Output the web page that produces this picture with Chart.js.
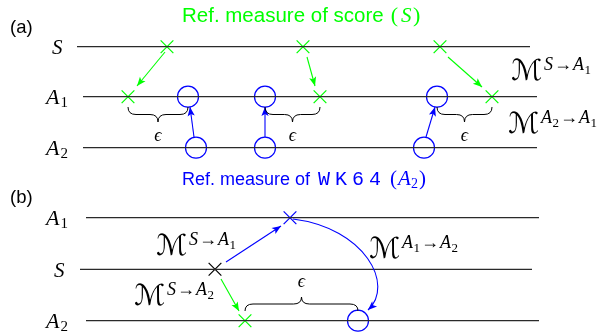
<!DOCTYPE html>
<html><head><meta charset="utf-8">
<script src="https://cdn.jsdelivr.net/npm/chart.js@4"></script>
<style>html,body{margin:0;padding:0;background:#fff}#w{width:613px;height:333px;position:relative}</style>
</head><body><div id="w"><canvas id="c"></canvas></div>
<script>
// ---------- diagram data (diagram units: 613 x 333 plane) ----------
// panel (a)
const aLevels = ['S', 'A1', 'A2'];
const aLineY = [46.7, 96.7, 147.7];
const aLineX = [[77, 530], [83, 537], [83, 537]];
const aScoreOnS = [167, 303, 440];      // green crosses on S
const aScoreOnA1 = [128, 320, 492];     // green crosses on A1
const aRefOnA2 = [196, 265, 424];       // blue circles on A2
const aRefOnA1 = [188, 265, 437];       // blue circles on A1
const aEpsSpans = [[128, 188], [265, 320], [437, 492]];
const aGreenArrows = [[165, 52, 137, 86], [307, 57, 315, 86], [448, 57, 482, 87]];
const aBlueArrows = [[194, 137, 190, 107], [265, 137, 265, 107], [426, 137, 435, 107]];
// panel (b)
const bLevels = ['A1', 'S', 'A2'];
const bLineY = [217.7, 269.3, 320.7];
const bLineX = [[86, 539], [80, 532], [86, 539]];
const bScoreOnS = [215];
const bMappedOnA1 = [290];
const bMappedOnA2 = [245];
const bRefOnA2 = [358];
const bBlueArrow = [226, 262, 281, 226];
const bGreenArrow = [221, 279, 239, 311];
const bCurve = [293, 219, 365, 228, 395, 285, 368, 310];
const bEpsSpan = [245, 358];

const GREEN = '#00ff00', BLUE = '#0000ff', INK = '#2a2a2a';

// ---------- datasets ----------
const datasets = [];
function hline(xs, y) {
  datasets.push({type: 'line', data: [{x: xs[0], y}, {x: xs[1], y}], borderColor: INK, borderWidth: 1.3,
    pointRadius: 0, clip: false});
}
aLineY.forEach((y, i) => hline(aLineX[i], y));
bLineY.forEach((y, i) => hline(bLineX[i], y));

function seg(a, color) {
  datasets.push({type: 'line', data: [{x: a[0], y: a[1]}, {x: a[2], y: a[3]}], borderColor: color, borderWidth: 1.1,
    pointRadius: 0, clip: false});
}
aGreenArrows.forEach(a => seg(a, GREEN));
aBlueArrows.forEach(a => seg(a, BLUE));
seg(bBlueArrow, BLUE);
seg(bGreenArrow, GREEN);

function marks(xs, y, style, color, r) {
  datasets.push({type: 'scatter', data: xs.map(x => ({x, y})), pointStyle: style, pointRadius: r,
    borderColor: color, backgroundColor: 'rgba(0,0,0,0)', pointBorderWidth: 1.2, borderWidth: 1.2, clip: false});
}
marks(aScoreOnS, aLineY[0], 'crossRot', GREEN, 9);
marks(aScoreOnA1, aLineY[1], 'crossRot', GREEN, 9);
marks(aRefOnA1, aLineY[1], 'circle', BLUE, 10.5);
marks(aRefOnA2, aLineY[2], 'circle', BLUE, 10.5);
marks(bScoreOnS, bLineY[1], 'crossRot', '#000', 9);
marks(bMappedOnA1, bLineY[0], 'crossRot', BLUE, 9);
marks(bMappedOnA2, bLineY[2], 'crossRot', GREEN, 9);
marks(bRefOnA2, bLineY[2], 'circle', BLUE, 10.5);

// ---------- drawing helpers (through scales) ----------
const SERIF = '"Liberation Serif", "DejaVu Serif", serif';
const SANS = '"Liberation Sans", Arial, sans-serif';
const MONO = '"Liberation Mono", "DejaVu Sans Mono", monospace';

const overlay = {
  id: 'overlay',
  afterDatasetsDraw(chart) {
    const ctx = chart.ctx, sx = chart.scales.x, sy = chart.scales.y;
    const X = v => sx.getPixelForValue(v), Y = v => sy.getPixelForValue(v);

    function head(x0, y0, x1, y1, color) {
      const px = X(x1), py = Y(y1), ang = Math.atan2(Y(y1) - Y(y0), X(x1) - X(x0));
      ctx.save(); ctx.translate(px, py); ctx.rotate(ang);
      ctx.beginPath(); ctx.moveTo(0, 0); ctx.lineTo(-9, -3.6); ctx.lineTo(-7, 0); ctx.lineTo(-9, 3.6); ctx.closePath();
      ctx.fillStyle = color; ctx.fill(); ctx.restore();
    }
    aGreenArrows.forEach(a => head(a[0], a[1], a[2], a[3], GREEN));
    aBlueArrows.forEach(a => head(a[0], a[1], a[2], a[3], BLUE));
    head(...bBlueArrow, BLUE);
    head(...bGreenArrow, GREEN);

    // curved arrow
    const c = bCurve;
    ctx.save(); ctx.strokeStyle = BLUE; ctx.lineWidth = 1.1; ctx.beginPath();
    ctx.moveTo(X(c[0]), Y(c[1])); ctx.bezierCurveTo(X(c[2]), Y(c[3]), X(c[4]), Y(c[5]), X(c[6]), Y(c[7]));
    ctx.stroke(); ctx.restore();
    head(c[4], c[5], c[6], c[7], BLUE);

    // braces
    function brace(x1, x2, y, h) {
      const a = X(x1), b = X(x2), m = (a + b) / 2, t = Y(y), mid = t + h / 2, tip = t + h, r = 8;
      ctx.save(); ctx.strokeStyle = '#000'; ctx.lineWidth = 1; ctx.beginPath();
      ctx.moveTo(a, t); ctx.quadraticCurveTo(a, mid, a + r, mid); ctx.lineTo(m - r, mid);
      ctx.quadraticCurveTo(m, mid, m, tip); ctx.quadraticCurveTo(m, mid, m + r, mid);
      ctx.lineTo(b - r, mid); ctx.quadraticCurveTo(b, mid, b, t); ctx.stroke(); ctx.restore();
    }
    aEpsSpans.forEach(s => brace(s[0], s[1], 107, 15));
    brace(bEpsSpan[0], bEpsSpan[1], 311, -14);

    // text runs: [text, font, dy, extra]
    function run(x, y, parts, color, align) {
      ctx.save(); ctx.fillStyle = color || '#000'; ctx.textBaseline = 'alphabetic';
      let w = 0;
      parts.forEach(p => { ctx.font = p[1]; w += ctx.measureText(p[0]).width + (p[3] || 0); });
      let cx = X(x) - (align === 'center' ? w / 2 : 0);
      parts.forEach(p => { ctx.font = p[1]; ctx.fillText(p[0], cx, Y(y) + (p[2] || 0)); cx += ctx.measureText(p[0]).width + (p[3] || 0); });
      ctx.restore();
    }
    const it = s => 'italic ' + s + 'px ' + SERIF;
    const rm = s => s + 'px ' + SERIF;
    const sans = s => s + 'px ' + SANS;
    function level(x, y, name) {
      if (name.length === 1) run(x, y, [[name, it(21)]]);
      else run(x, y, [[name[0], it(22), 0, 1], [name[1], rm(15), 3]]);
    }
    // level labels
    level(52, aLineY[0] + 7.5, 'S');
    level(46, aLineY[1] + 7.5, 'A1');
    level(46, aLineY[2] + 7.5, 'A2');
    level(46, bLineY[0] + 7.5, 'A1');
    level(54, bLineY[1] + 7.5, 'S');
    level(46, bLineY[2] + 7.5, 'A2');

    // panel tags
    run(10, 33, [['(a)', sans(18.5)]]);
    run(10, 203, [['(b)', sans(18.5)]]);

    // titles
    run(182, 21.7, [['Ref. measure of score', sans(20.5), 0, 7], ['(', rm(22), 0, 3], ['S', it(21), 0, 1.5], [')', rm(22)]], GREEN);
    const tt = '20px ' + MONO;
    run(182, 185, [['Ref. measure of', sans(18), 0, 8], ['W', tt, 0, 5], ['K', tt, 0, 5], ['6', tt, 0, 5], ['4', tt, 0, 9],
      ['(', rm(21), 0, 1], ['A', it(21), 0, 0], ['2', rm(14), 3, 1], [')', rm(21)]], BLUE);

    // epsilons
    aEpsSpans.forEach(s => run((s[0] + s[1]) / 2, 141, [['\u03f5', it(18)]], '#000', 'center'));
    run((bEpsSpan[0] + bEpsSpan[1]) / 2, 287, [['\u03f5', it(18)]], '#000', 'center');

    // mapping labels  M^{from -> to}
    function mlabel(x, y, from, to) {
      const parts = [['\u2133', '29px "DejaVu Sans", serif', 0, 2]];
      const sup = (n) => n.length === 1 ? [[n, it(18), -10, 1]] : [[n[0], it(18), -10, 0.5], [n[1], rm(13), -6.5, 1]];
      sup(from).forEach(p => parts.push(p));
      parts.push(['\u2192', rm(18), -10, 1]);
      sup(to).forEach(p => parts.push(p));
      run(x, y, parts);
    }
    mlabel(511, 80, 'S', 'A1');
    mlabel(508, 133, 'A2', 'A1');
    mlabel(156, 255, 'S', 'A1');
    mlabel(134, 305, 'S', 'A2');
    mlabel(369, 258, 'A1', 'A2');
  }
};

new Chart(document.getElementById('c'), {
  data: {datasets},
  options: {
    responsive: true, maintainAspectRatio: false, animation: false, events: [],
    layout: {padding: 0, autoPadding: false},
    plugins: {legend: {display: false}, tooltip: {enabled: false}},
    scales: {
      x: {type: 'linear', display: false, min: 0, max: 613},
      y: {type: 'linear', display: false, min: 0, max: 333, reverse: true}
    }
  },
  plugins: [overlay]
});
</script>
</body></html>
